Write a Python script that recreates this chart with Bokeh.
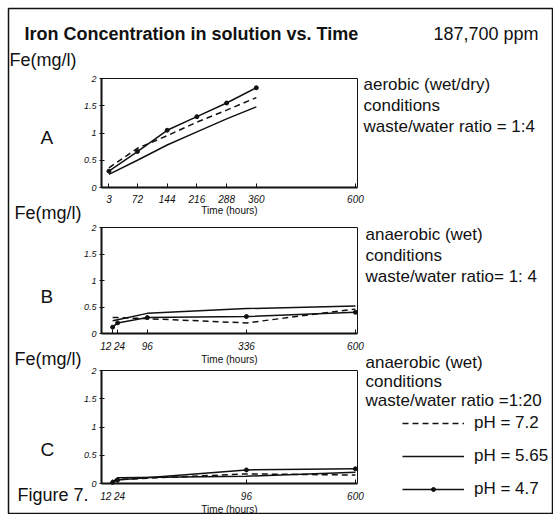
from bokeh.plotting import figure
from bokeh.models import Label, Legend, LegendItem, FixedTicker, Range1d, LinearAxis
from bokeh.embed import file_html
from bokeh.resources import INLINE

FONT = "Liberation Sans"
INK = "#111111"

# ---------------- data ----------------
y_ticks = [0, 0.5, 1, 1.5, 2]
y_tick_labels = ["0", "0.5", "1", "1.5", "2"]

# Panel A: aerobic (wet/dry), waste/water ratio 1:4
time_a = [3, 72, 144, 216, 288, 360]
fe_a_ph72 = [0.36, 0.72, 0.95, 1.2, 1.42, 1.65]
fe_a_ph565 = [0.24, 0.5, 0.78, 1.02, 1.26, 1.48]
fe_a_ph47 = [0.3, 0.66, 1.05, 1.3, 1.55, 1.83]
ticks_a = [3, 72, 144, 216, 288, 360, 600]
tick_labels_a = ["3", "72", "144", "216", "288", "360", "600"]

# Panel B: anaerobic (wet), waste/water ratio 1:4
time_b = [12, 24, 96, 336, 600]
fe_b_ph72 = [0.3, 0.3, 0.28, 0.2, 0.46]
fe_b_ph565 = [0.24, 0.26, 0.38, 0.47, 0.52]
fe_b_ph47 = [0.12, 0.2, 0.3, 0.32, 0.4]
ticks_b = [12, 24, 96, 336, 600]
tick_labels_b = ["12 24", "", "96", "336", "600"]

# Panel C: anaerobic (wet), waste/water ratio 1:20
time_c = [12, 24, 336, 600]
fe_c_ph72 = [0.02, 0.07, 0.17, 0.15]
fe_c_ph565 = [0.03, 0.1, 0.13, 0.2]
fe_c_ph47 = [0.02, 0.06, 0.24, 0.26]
ticks_c = [12, 24, 336, 600]
tick_labels_c = ["12 24", "", "96", "600"]

series_labels = ["pH = 7.2", "pH = 5.65", "pH = 4.7"]

# ---------------- layout (page pixels) ----------------
W, H = 553, 514                  # canvas size (canvas sits at page 0,0)
FL, FT, FR, FB = 8, 8, 552, 513  # outer frame (border box) edges
X0, X1 = -15, 605                # hours spanned by every panel box
PL, PR = 101, 357                # panel box left / right (page x)
BOX = {"ya": (78, 187), "yb": (227, 333), "yc": (370, 483)}  # top / bottom (page y)


def lin_range(v0, v1, p0, p1, c0, c1):
    k = (v1 - v0) / (p1 - p0)
    return Range1d(start=v0 + (c0 - p0) * k, end=v0 + (c1 - p0) * k)


hours = lin_range(X0, X1, PL, PR, FL, FR)
y_ranges = {n: lin_range(0, 2, b, t, FB, FT) for n, (t, b) in BOX.items()}

p = figure(width=W, height=H, x_range=hours, y_range=Range1d(0, 1),
           x_axis_type=None, y_axis_type=None,
           min_border_left=FL, min_border_top=FT,
           min_border_right=W - FR, min_border_bottom=H - FB,
           output_backend="svg", toolbar_location=None,
           background_fill_color="white", border_fill_color="white")
p.extra_x_ranges = {"hours": hours}
p.extra_y_ranges = y_ranges
p.grid.visible = False
p.outline_line_color = INK
p.outline_line_width = 1.5


def style_axis(ax, width):
    ax.axis_line_color = INK
    ax.axis_line_width = width
    ax.major_tick_line_color = INK
    ax.major_tick_line_width = 1
    ax.minor_tick_line_color = None
    ax.major_label_text_font = FONT
    ax.major_label_text_font_style = "italic"
    ax.major_label_text_color = INK


def add_panel(yname, ticks, tick_labels, time, s72, s565, s47):
    common = dict(x_range_name="hours", y_range_name=yname)
    bottom = LinearAxis(fixed_location=0, bounds=(X0, X1), **common)
    style_axis(bottom, 2)
    bottom.ticker = FixedTicker(ticks=ticks)
    bottom.major_label_overrides = {t: l for t, l in zip(ticks, tick_labels)}
    bottom.major_tick_in = 4
    bottom.major_tick_out = 0
    bottom.major_label_standoff = 7
    bottom.major_label_text_font_size = "10px"
    bottom.axis_label = "Time (hours)"
    bottom.axis_label_text_font = FONT
    bottom.axis_label_text_font_style = "normal"
    bottom.axis_label_text_font_size = "10px"
    bottom.axis_label_text_color = INK
    bottom.axis_label_standoff = -1
    p.add_layout(bottom, "below")

    left = LinearAxis(fixed_location=X0, bounds=(0, 2), **common)
    style_axis(left, 2)
    left.ticker = FixedTicker(ticks=y_ticks)
    left.major_label_overrides = {t: l for t, l in zip(y_ticks, y_tick_labels)}
    left.major_tick_in = 3
    left.major_tick_out = 2
    left.major_label_standoff = 3
    left.major_label_text_font_size = "9px"
    p.add_layout(left, "left")

    top = LinearAxis(fixed_location=2, bounds=(X0, X1), **common)
    style_axis(top, 1)
    top.ticker = FixedTicker(ticks=[])
    p.add_layout(top, "above")

    right = LinearAxis(fixed_location=X1, bounds=(0, 2), **common)
    style_axis(right, 1)
    right.ticker = FixedTicker(ticks=[])
    p.add_layout(right, "right")

    r72 = p.line(time, s72, line_color=INK, line_width=1.5, line_dash="6 4", **common)
    r565 = p.line(time, s565, line_color=INK, line_width=1.5, **common)
    r47 = p.line(time, s47, line_color=INK, line_width=1.5, **common)
    r47m = p.scatter(time, s47, size=4, color=INK, **common)
    return r72, r565, r47, r47m


add_panel("ya", ticks_a, tick_labels_a, time_a, fe_a_ph72, fe_a_ph565, fe_a_ph47)
add_panel("yb", ticks_b, tick_labels_b, time_b, fe_b_ph72, fe_b_ph565, fe_b_ph47)
rc = add_panel("yc", ticks_c, tick_labels_c, time_c, fe_c_ph72, fe_c_ph565, fe_c_ph47)


def label(X, Y, text, size="17px", style="normal", align="left"):
    p.add_layout(Label(x=X - FL, y=FB - Y, x_units="screen", y_units="screen",
                       text=text, text_font=FONT, text_font_size=size,
                       text_font_style=style, text_color=INK,
                       text_baseline="middle", text_align=align))


label(24, 33, "Iron Concentration in solution vs. Time", size="18px", style="bold")
label(433, 33, "187,700 ppm", size="18px")

label(9, 59, "Fe(mg/l)", size="18px")
label(40, 137, "A", size="19px")
label(363, 84, "aerobic (wet/dry)")
label(363, 105, "conditions")
label(363, 126, "waste/water ratio = 1:4")

label(14, 212, "Fe(mg/l)", size="18px")
label(40, 296, "B", size="19px")
label(365, 234, "anaerobic (wet)")
label(365, 255, "conditions")
label(365, 276, "waste/water ratio= 1: 4")

label(14, 358, "Fe(mg/l)", size="18px")
label(40, 449, "C", size="19px")
label(365, 362, "anaerobic (wet)")
label(365, 381, "conditions")
label(365, 400, "waste/water ratio =1:20")
label(17, 494, "Figure 7.", size="18px")

legend = Legend(items=[
    LegendItem(label=series_labels[0], renderers=[rc[0]]),
    LegendItem(label=series_labels[1], renderers=[rc[1]]),
    LegendItem(label=series_labels[2], renderers=[rc[2], rc[3]]),
], location=(402 - FL, FB - 500))
legend.glyph_width = 62
legend.glyph_height = 10
legend.label_height = 22
legend.spacing = 11
legend.padding = 0
legend.margin = 0
legend.label_standoff = 10
legend.border_line_color = None
legend.background_fill_alpha = 0
legend.label_text_font = FONT
legend.label_text_font_size = "17px"
legend.label_text_color = INK
p.add_layout(legend)

open("out.html", "w").write(file_html(p, INLINE))
